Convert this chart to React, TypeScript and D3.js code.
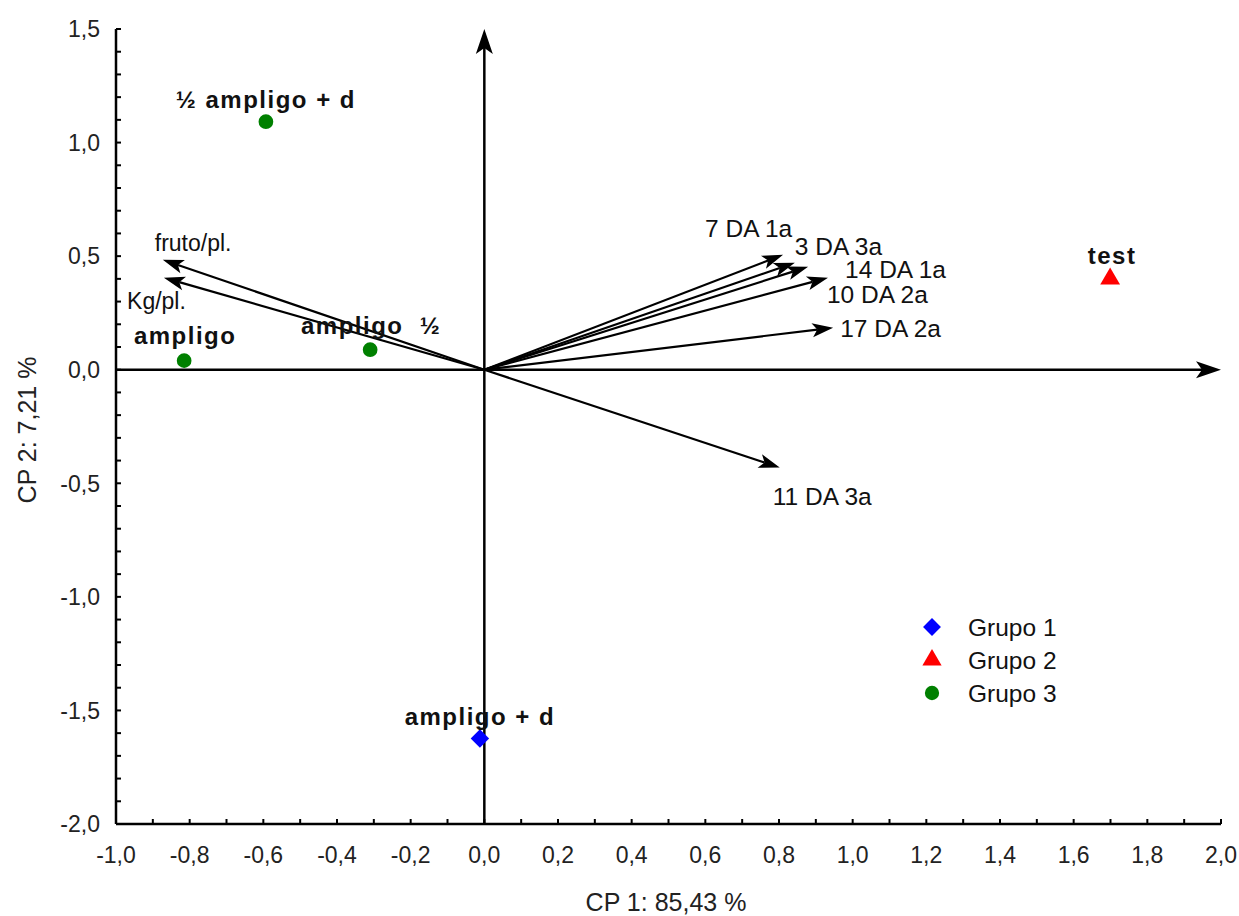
import * as d3 from 'd3';

// treatment scores (CP 1, CP 2)
const pointNames = ['½ ampligo + d', 'ampligo', 'ampligo\u00a0\u00a0½', 'ampligo + d', 'test'];
const pointX = [-0.593, -0.815, -0.31, -0.012, 1.699];
const pointY = [1.092, 0.04, 0.088, -1.624, 0.4];
const pointGroup = [3, 3, 3, 1, 2];

// variable loadings (arrows from the origin)
const vectorNames = ['fruto/pl.', 'Kg/pl.', '7 DA 1a', '3 DA 3a', '14 DA 1a', '10 DA 2a', '17 DA 2a', '11 DA 3a'];
const vectorX = [-0.873, -0.87, 0.811, 0.843, 0.879, 0.933, 0.947, 0.802];
const vectorY = [0.484, 0.405, 0.506, 0.471, 0.453, 0.405, 0.185, -0.431];

const groups = ['Grupo 1', 'Grupo 2', 'Grupo 3'];
const groupColors = ['#0000ff', '#ff0000', '#008000'];

const xTicks = [-1.0, -0.8, -0.6, -0.4, -0.2, 0.0, 0.2, 0.4, 0.6, 0.8, 1.0, 1.2, 1.4, 1.6, 1.8, 2.0];
const yTicks = [-2.0, -1.5, -1.0, -0.5, 0.0, 0.5, 1.0, 1.5];

const width = 1239;
const height = 916;
const margin = { top: 29, right: 18, bottom: 92, left: 116 };

// label placement, pixels from the mark / arrow tip
const pointLabelOffset: Record<string, [number, number]> = {
  '½ ampligo + d': [0, -14],
  ampligo: [1, -17],
  'ampligo\u00a0\u00a0½': [1, -16],
  'ampligo + d': [0, -14],
  test: [2, -15],
};
const vectorLabelOffset: Record<string, [number, number, string]> = {
  'fruto/pl.': [-8, -9, 'start'],
  'Kg/pl.': [22, 31, 'end'],
  '7 DA 1a': [-78, -18, 'start'],
  '3 DA 3a': [0, -8, 'start'],
  '14 DA 1a': [37, 11, 'start'],
  '10 DA 2a': [-1, 25, 'start'],
  '17 DA 2a': [7, 9, 'start'],
  '11 DA 3a': [-7, 37, 'start'],
};

const locale = d3.formatLocale({ decimal: ',', thousands: '.', grouping: [3], currency: ['', ''], minus: '-' });
const fmt = locale.format('.1f');

const font = 'Liberation Sans, Arial, sans-serif';

function arrow(x0: number, y0: number, x1: number, y1: number, len: number, half: number, notch: number) {
  const a = Math.atan2(y1 - y0, x1 - x0);
  const ux = Math.cos(a);
  const uy = Math.sin(a);
  const bx = x1 - len * ux;
  const by = y1 - len * uy;
  const nx = x1 - (len - notch) * ux;
  const ny = y1 - (len - notch) * uy;
  const head = [
    [x1, y1],
    [bx - half * uy, by + half * ux],
    [nx, ny],
    [bx + half * uy, by - half * ux],
  ];
  return { end: [nx, ny], head: head.map((p) => p.join(',')).join(' ') };
}

function symbolPath(group: number, size: number) {
  if (group === 1) {
    const r = Math.sqrt(size / 2);
    return `M0,${-r}L${r},0L0,${r}L${-r},0Z`;
  }
  const type = group === 2 ? d3.symbolTriangle : d3.symbolCircle;
  return d3.symbol().type(type).size(size)() as string;
}

export default function App() {
  const x = d3.scaleLinear().domain([-1, 2]).range([margin.left, width - margin.right]);
  const y = d3.scaleLinear().domain([-2, 1.5]).range([height - margin.bottom, margin.top]);

  const xMinor = d3.range(-10, 21).map((i) => i / 10);
  const yMinor = d3.range(-20, 16).map((i) => i / 10);

  const x0 = x(0);
  const y0 = y(0);
  const hAxis = arrow(x(-1), y0, x(2), y0, 25, 8.5, 6);
  const vAxis = arrow(x0, y(-2), x0, y(1.5), 25, 8.5, 6);

  return (
    <div style={{ position: 'absolute', left: 0, top: 0 }}>
      <svg width={width} height={height} style={{ display: 'block', background: '#fff' }} fontFamily={font}>
        {/* left and bottom spines */}
        <line x1={x(-1)} x2={x(-1)} y1={y(1.5)} y2={y(-2)} stroke="#000" strokeWidth={2.5} />
        <line x1={x(-1)} x2={x(2)} y1={y(-2)} y2={y(-2)} stroke="#000" strokeWidth={2.5} />
        {xMinor.map((v) => (
          <line key={'xm' + v} x1={x(v)} x2={x(v)} y1={y(-2)} y2={y(-2) - 5} stroke="#000" strokeWidth={2} />
        ))}
        {yMinor.map((v) => (
          <line key={'ym' + v} x1={x(-1)} x2={x(-1) + 5} y1={y(v)} y2={y(v)} stroke="#000" strokeWidth={2} />
        ))}
        {xTicks.map((v) => (
          <text key={'xt' + v} x={x(v)} y={y(-2) + 39} textAnchor="middle" fontSize={23} fill="#222">
            {fmt(v)}
          </text>
        ))}
        {yTicks.map((v) => (
          <text key={'yt' + v} x={x(-1) - 16} y={y(v)} dy="0.36em" textAnchor="end" fontSize={23} fill="#222">
            {fmt(v)}
          </text>
        ))}
        <text x={666} y={911} textAnchor="middle" fontSize={25} fill="#222">
          CP 1: 85,43 %
        </text>
        <text transform="translate(36,430) rotate(-90)" textAnchor="middle" fontSize={25} fill="#222">
          CP 2: 7,21 %
        </text>

        {/* axes through the origin */}
        <line x1={x(-1)} y1={y0} x2={hAxis.end[0]} y2={hAxis.end[1]} stroke="#000" strokeWidth={2.5} />
        <polygon points={hAxis.head} fill="#000" />
        <line x1={x0} y1={y(-2)} x2={vAxis.end[0]} y2={vAxis.end[1]} stroke="#000" strokeWidth={2.5} />
        <polygon points={vAxis.head} fill="#000" />

        {/* loading vectors */}
        {vectorNames.map((name, i) => {
          const tx = x(vectorX[i]);
          const ty = y(vectorY[i]);
          const a = arrow(x0, y0, tx, ty, 21, 7, 5);
          const [dx, dy, anchor] = vectorLabelOffset[name];
          return (
            <g key={name}>
              <line x1={x0} y1={y0} x2={a.end[0]} y2={a.end[1]} stroke="#000" strokeWidth={2.2} />
              <polygon points={a.head} fill="#000" />
              <text x={tx + dx} y={ty + dy} textAnchor={anchor} fontSize={name.includes('/') ? 23 : 24.5} fill="#111">
                {name}
              </text>
            </g>
          );
        })}

        {/* treatment points */}
        {pointNames.map((name, i) => {
          const px = x(pointX[i]);
          const py = y(pointY[i]);
          const [dx, dy] = pointLabelOffset[name];
          return (
            <g key={name}>
              <path d={symbolPath(pointGroup[i], 170)} transform={`translate(${px},${py})`} fill={groupColors[pointGroup[i] - 1]} />
              <text x={px + dx} y={py + dy} textAnchor="middle" fontSize={24} fontWeight="bold" letterSpacing={1.5} fill="#111">
                {name}
              </text>
            </g>
          );
        })}

        {/* legend */}
        {groups.map((g, i) => (
          <g key={g} transform={`translate(932,${627 + i * 33})`}>
            <path d={symbolPath(i + 1, 160)} fill={groupColors[i]} />
            <text x={36} dy="0.36em" fontSize={24.5} fill="#111">
              {g}
            </text>
          </g>
        ))}
      </svg>
    </div>
  );
}
